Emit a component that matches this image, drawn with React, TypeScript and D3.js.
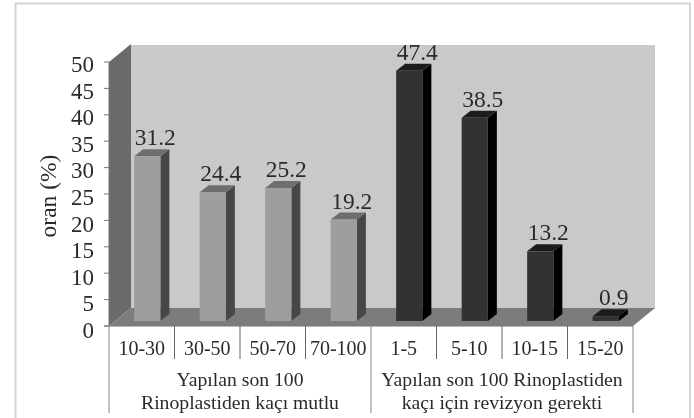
import { useEffect, useRef } from 'react';
import * as d3 from 'd3';

const categories = ['10-30', '30-50', '50-70', '70-100', '1-5', '5-10', '10-15', '15-20'];
const values = [31.2, 24.4, 25.2, 19.2, 47.4, 38.5, 13.2, 0.9];
const yTicks = [0, 5, 10, 15, 20, 25, 30, 35, 40, 45, 50];
const groupOneLines = ['Yapılan son 100', 'Rinoplastiden kaçı mutlu'];
const groupTwoLines = ['Yapılan son 100 Rinoplastiden', 'kaçı için revizyon gerekti'];

const FONT = '"Liberation Serif", serif';

const App = () => {
  const chartRef = useRef<SVGSVGElement>(null);

  useEffect(() => {
    if (!chartRef.current) return;
    document.body.style.margin = '0';
    d3.select(chartRef.current).selectAll('*').remove();

    const svg = d3.select(chartRef.current);
    const left = 109;
    const right = 633;
    const y0 = 326;
    const y50 = 62;
    // depth of the 3d box and of each bar
    const wallDx = 22;
    const wallDy = -18;
    const barDx = 9;
    const barDy = -7;
    const floorShift = 5.5;

    const x = d3.scaleBand().domain(categories).range([left, right]).paddingInner(0.6).paddingOuter(0.3);
    const y = d3.scaleLinear().domain([0, 50]).range([y0, y50]);
    // the tick labels drift a little under their ticks
    const yLabel = d3.scaleLinear().domain([0, 50]).range([338, 72]);
    const step = x.step();

    const defs = svg.append('defs');
    defs.append('filter').attr('id', 'soft')
      .append('feGaussianBlur').attr('stdDeviation', 0.35);

    const root = svg.append('g').attr('filter', 'url(#soft)');

    // Outer frame
    root.append('path')
      .attr('d', 'M15.5,418V3.5H690V418')
      .attr('fill', 'none')
      .attr('stroke', '#d6d6d6')
      .attr('stroke-width', 2);

    // Back wall, side wall and floor
    root.append('rect')
      .attr('x', left + wallDx)
      .attr('y', y50 + wallDy + 1)
      .attr('width', right - left)
      .attr('height', y0 - y50)
      .attr('fill', '#c9c9c9');
    root.append('path')
      .attr('d', `M${left},${y0}L${left},${y50}L${left + wallDx},${y50 + wallDy}L${left + wallDx},${y0 + wallDy}Z`)
      .attr('fill', '#6a6a6a');
    root.append('path')
      .attr('d', `M${left},${y0}L${left + wallDx},${y0 + wallDy}L${right + wallDx},${y0 + wallDy}L${right},${y0}Z`)
      .attr('fill', '#7c7c7c');

    // Bars
    const bars = root.selectAll('.bar')
      .data(categories)
      .enter()
      .append('g')
      .attr('class', 'bar');

    const bx = (c: string) => (x(c) || 0) + floorShift;
    const by = (i: number) => y(values[i]) - 5;
    const bw = x.bandwidth();
    const isDark = (i: number) => i >= 4;

    bars.append('path')
      .attr('d', (c, i) => `M${bx(c) + bw},${y0 - 5}V${by(i)}l${barDx},${barDy}V${y0 - 5 + barDy}Z`)
      .attr('fill', (_, i) => (isDark(i) ? '#000000' : '#464646'));
    bars.append('path')
      .attr('d', (c, i) => `M${bx(c)},${by(i)}h${bw}l${barDx},${barDy}h${-bw}Z`)
      .attr('fill', (_, i) => (isDark(i) ? '#1c1c1c' : '#6e6e6e'));
    bars.append('rect')
      .attr('x', c => bx(c))
      .attr('y', (_, i) => by(i))
      .attr('width', bw)
      .attr('height', (_, i) => y0 - 5 - by(i))
      .attr('fill', (_, i) => (isDark(i) ? '#333333' : '#9e9e9e'));

    // Value labels
    bars.append('text')
      .attr('x', c => bx(c) + bw / 2 + 8)
      .attr('y', (_, i) => by(i) + barDy - 4)
      .attr('text-anchor', 'middle')
      .style('font-family', FONT)
      .style('font-size', '23.5px')
      .attr('fill', '#2b2b2b')
      .text((_, i) => values[i].toFixed(1));

    // y axis ticks and labels
    root.append('g')
      .selectAll('line')
      .data(yTicks)
      .enter()
      .append('line')
      .attr('x1', left - 5)
      .attr('x2', left)
      .attr('y1', d => y(d))
      .attr('y2', d => y(d))
      .attr('stroke', '#777777');
    root.append('line')
      .attr('x1', left).attr('x2', left)
      .attr('y1', y50).attr('y2', y0)
      .attr('stroke', '#777777');
    root.append('g')
      .selectAll('text')
      .data(yTicks)
      .enter()
      .append('text')
      .attr('x', 94)
      .attr('y', d => yLabel(d))
      .attr('text-anchor', 'end')
      .style('font-family', FONT)
      .style('font-size', '23px')
      .attr('fill', '#2b2b2b')
      .text(d => d);

    // y axis title
    root.append('text')
      .attr('transform', 'translate(56,196) rotate(-90)')
      .attr('text-anchor', 'middle')
      .style('font-family', FONT)
      .style('font-size', '23.5px')
      .attr('fill', '#2b2b2b')
      .text('oran (%)');

    // x axis base line, dividers
    root.append('line')
      .attr('x1', left - 5).attr('x2', right)
      .attr('y1', y0).attr('y2', y0)
      .attr('stroke', '#777777');
    root.append('g')
      .selectAll('line')
      .data(d3.range(0, 9))
      .enter()
      .append('line')
      .attr('x1', i => left + i * step)
      .attr('x2', i => left + i * step)
      .attr('y1', y0)
      .attr('y2', i => (i % 4 === 0 ? 413 : 359))
      .attr('stroke', i => (i % 4 === 0 ? '#999999' : '#666666'))
      .attr('stroke-width', i => (i % 4 === 0 ? 1.2 : 1));

    // Category labels
    root.append('g')
      .selectAll('text')
      .data(categories)
      .enter()
      .append('text')
      .attr('x', c => (x(c) || 0) + bw / 2)
      .attr('y', 355)
      .attr('text-anchor', 'middle')
      .style('font-family', FONT)
      .style('font-size', '20px')
      .attr('fill', '#2b2b2b')
      .text(c => c);

    // Group labels
    const groups = [groupOneLines, groupTwoLines];
    groups.forEach((lines, g) => {
      root.append('g')
        .selectAll('text')
        .data(lines)
        .enter()
        .append('text')
        .attr('x', left + (g * 4 + 2) * step)
        .attr('y', (_, i) => 386 + i * 23)
        .attr('text-anchor', 'middle')
        .style('font-family', FONT)
        .style('font-size', '19.7px')
        .attr('fill', '#2b2b2b')
        .text(d => d);
    });
  }, []);

  return <svg ref={chartRef} width={694} height={418} style={{ display: 'block' }} />;
};

export default App;
